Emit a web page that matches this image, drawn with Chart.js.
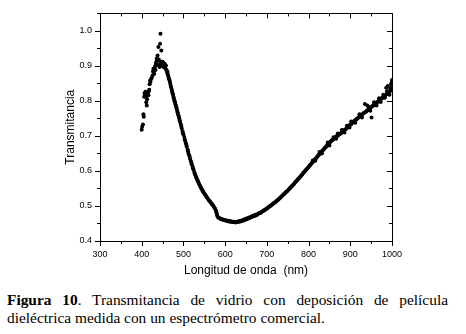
<!DOCTYPE html>
<html>
<head>
<meta charset="utf-8">
<script src="https://cdn.jsdelivr.net/npm/chart.js@4"></script>
<style>
    body { margin: 0; background: #fff; }
    #caja { position: relative; width: 466px; height: 334px; }
    #grafico { position: absolute; left: 0; top: 0; }
    .pie { position: absolute; left: 7px; width: 441px; font-family: "Liberation Serif", serif; font-size: 15.4px; color: #000; line-height: 18px; }
    #pie1 { top: 291px; text-align: justify; text-align-last: justify; }
    #pie2 { top: 309px; }
</style>
</head>
<body>
<div id="caja">
    <canvas id="grafico" width="466" height="285"></canvas>
    <div class="pie" id="pie1"><b>Figura 10</b>. Transmitancia de vidrio con deposición de película</div>
    <div class="pie" id="pie2">dieléctrica medida con un espectrómetro comercial.</div>
</div>
<script>
// longitud de onda (nm) y transmitancia
var LONGITUD = [
    400, 401, 403, 404, 405, 406, 407, 408, 409, 410, 411, 412, 413, 414, 415, 416, 417, 418, 419, 420,
    421, 422, 424, 426, 427, 428, 429, 430, 431, 432, 433, 434, 435, 436, 437, 438, 439, 440, 441, 442,
    443, 444, 445, 446, 447, 448, 449, 450, 451, 452, 453, 454, 455, 456, 457, 458, 459, 460, 461, 462,
    463, 464, 465, 466, 467, 468, 469, 470, 471, 472, 473, 474, 475, 476, 477, 478, 479, 480, 481, 482,
    483, 484, 485, 486, 487, 488, 489, 490, 491, 492, 494, 495, 496, 498, 499, 500, 502, 503, 504, 506,
    507, 508, 510, 511, 512, 514, 515, 516, 518, 519, 520, 522, 523, 524, 526, 527, 528, 530, 531, 532,
    534, 535, 536, 538, 540, 542, 543, 545, 547, 548, 550, 552, 554, 556, 558, 560, 562, 564, 566, 568,
    570, 572, 574, 576, 578, 579, 580, 581, 583, 585, 587, 589, 591, 593, 595, 597, 599, 601, 603, 605,
    607, 609, 611, 613, 615, 617, 619, 621, 623, 625, 627, 629, 631, 633, 635, 637, 639, 641, 643, 645,
    647, 649, 651, 653, 655, 657, 659, 661, 663, 665, 667, 669, 671, 673, 675, 677, 679, 681, 683, 685,
    687, 689, 691, 693, 695, 697, 699, 701, 703, 705, 707, 709, 711, 713, 715, 717, 719, 721, 723, 725,
    727, 729, 731, 733, 735, 737, 739, 741, 743, 745, 747, 749, 751, 753, 755, 757, 759, 761, 763, 765,
    767, 769, 771, 773, 775, 777, 779, 781, 783, 785, 787, 789, 791, 793, 795, 797, 799, 801, 803, 805,
    807, 809, 811, 813, 815, 817, 819, 821, 823, 825, 827, 829, 831, 833, 835, 837, 839, 841, 843, 845,
    847, 849, 851, 853, 855, 857, 859, 861, 863, 865, 867, 869, 871, 873, 875, 877, 879, 881, 883, 885,
    887, 889, 891, 893, 895, 897, 899, 901, 903, 905, 907, 909, 911, 913, 915, 917, 919, 921, 923, 925,
    927, 929, 931, 933, 935, 936, 938, 940, 941, 943, 945, 947, 949, 951, 952, 954, 956, 958, 960, 962,
    964, 966, 968, 970, 972, 974, 976, 978, 980, 982, 984, 986, 987, 989, 990, 991, 993, 995, 997, 998,
    999, 1000,
    810, 816, 826, 832, 846, 850, 860, 866, 870, 880, 886, 892, 898, 902, 912, 922, 928, 944, 948, 957,
    963, 969, 973, 979, 983, 988, 994, 996
];
var TRANSMITANCIA = [
    0.718, 0.726, 0.733, 0.762, 0.755, 0.812, 0.822, 0.818, 0.826, 0.812, 0.796, 0.787, 0.805, 0.818, 0.824, 0.816, 0.828, 0.832, 0.848, 0.858,
    0.854, 0.862, 0.866, 0.873, 0.884, 0.892, 0.886, 0.878, 0.894, 0.899, 0.888, 0.906, 0.912, 0.921, 0.915, 0.930, 0.902, 0.954, 0.918, 0.905,
    0.897, 0.963, 0.992, 0.912, 0.944, 0.908, 0.903, 0.912, 0.898, 0.909, 0.904, 0.896, 0.906, 0.898, 0.892, 0.901, 0.889, 0.886, 0.880, 0.883,
    0.874, 0.870, 0.864, 0.861, 0.858, 0.852, 0.846, 0.841, 0.837, 0.832, 0.826, 0.822, 0.818, 0.812, 0.808, 0.803, 0.799, 0.795, 0.790, 0.786,
    0.781, 0.778, 0.772, 0.768, 0.763, 0.759, 0.754, 0.750, 0.745, 0.740, 0.733, 0.727, 0.721, 0.713, 0.708, 0.704, 0.697, 0.690, 0.686, 0.679,
    0.674, 0.670, 0.661, 0.656, 0.650, 0.644, 0.640, 0.634, 0.628, 0.623, 0.619, 0.612, 0.608, 0.604, 0.597, 0.593, 0.590, 0.584, 0.581, 0.578,
    0.573, 0.570, 0.567, 0.562, 0.557, 0.553, 0.550, 0.546, 0.542, 0.539, 0.536, 0.532, 0.529, 0.525, 0.522, 0.518, 0.515, 0.512, 0.509, 0.506,
    0.503, 0.500, 0.496, 0.492, 0.487, 0.482, 0.477, 0.472, 0.468, 0.466, 0.465, 0.463, 0.462, 0.462, 0.461, 0.460, 0.459, 0.459, 0.458, 0.457,
    0.458, 0.456, 0.457, 0.455, 0.456, 0.454, 0.455, 0.454, 0.455, 0.453, 0.455, 0.454, 0.456, 0.455, 0.457, 0.456, 0.458, 0.459, 0.458, 0.461,
    0.462, 0.461, 0.464, 0.463, 0.466, 0.465, 0.468, 0.467, 0.470, 0.469, 0.472, 0.471, 0.474, 0.473, 0.476, 0.475, 0.478, 0.479, 0.481, 0.480,
    0.483, 0.484, 0.486, 0.487, 0.489, 0.490, 0.492, 0.494, 0.495, 0.498, 0.499, 0.501, 0.503, 0.504, 0.507, 0.508, 0.510, 0.512, 0.514, 0.516,
    0.518, 0.521, 0.522, 0.525, 0.527, 0.529, 0.532, 0.534, 0.536, 0.539, 0.541, 0.543, 0.546, 0.548, 0.551, 0.553, 0.556, 0.558, 0.561, 0.563,
    0.566, 0.569, 0.571, 0.574, 0.577, 0.579, 0.582, 0.585, 0.588, 0.590, 0.594, 0.596, 0.599, 0.602, 0.605, 0.607, 0.610, 0.613, 0.616, 0.618,
    0.622, 0.624, 0.627, 0.630, 0.633, 0.635, 0.638, 0.641, 0.644, 0.646, 0.650, 0.652, 0.655, 0.658, 0.660, 0.663, 0.666, 0.668, 0.671, 0.674,
    0.676, 0.679, 0.682, 0.684, 0.686, 0.689, 0.690, 0.693, 0.695, 0.697, 0.699, 0.700, 0.702, 0.704, 0.706, 0.707, 0.709, 0.712, 0.713, 0.716,
    0.718, 0.719, 0.722, 0.724, 0.726, 0.728, 0.731, 0.733, 0.735, 0.738, 0.740, 0.742, 0.744, 0.746, 0.748, 0.750, 0.752, 0.754, 0.756, 0.758,
    0.760, 0.762, 0.764, 0.766, 0.791, 0.768, 0.770, 0.773, 0.787, 0.775, 0.777, 0.779, 0.781, 0.753, 0.784, 0.786, 0.788, 0.790, 0.792, 0.794,
    0.796, 0.798, 0.800, 0.802, 0.804, 0.806, 0.808, 0.810, 0.812, 0.814, 0.816, 0.838, 0.819, 0.821, 0.843, 0.823, 0.825, 0.828, 0.832, 0.846,
    0.852, 0.860,
    0.630, 0.629, 0.654, 0.650, 0.681, 0.673, 0.696, 0.692, 0.707, 0.717, 0.710, 0.729, 0.724, 0.741, 0.738, 0.762, 0.753, 0.783, 0.772, 0.796,
    0.787, 0.808, 0.797, 0.818, 0.809, 0.828, 0.818, 0.836
];
var TICKS_X = [300, 400, 500, 600, 700, 800, 900, 1000];
var TICKS_Y = [0.4, 0.5, 0.6, 0.7, 0.8, 0.9, 1.0];

var puntos = [];
for (var i in LONGITUD) {
    puntos.push({x: LONGITUD[i], y: TRANSMITANCIA[i]});
}

// marco y marcas de los ejes (mayores y menores)
var marcasEjes = {
    id: 'marcasEjes',
    afterDraw: function (chart) {
        var ctx = chart.ctx;
        var a = chart.chartArea;
        var sx = chart.scales.x;
        var sy = chart.scales.y;
        ctx.save();
        ctx.strokeStyle = '#000';
        ctx.lineWidth = 1;
        ctx.beginPath();
        ctx.rect(Math.round(a.left) + 0.5, Math.round(a.top) + 0.5, Math.round(a.right - a.left), Math.round(a.bottom - a.top));
        for (var v = 300; v <= 1000; v += 50) {
            var px = Math.round(sx.getPixelForValue(v)) + 0.5;
            var l = (v % 100 === 0) ? 5 : 3;
            ctx.moveTo(px, a.bottom);
            ctx.lineTo(px, a.bottom + l);
            ctx.moveTo(px, a.top);
            ctx.lineTo(px, a.top + l);
        }
        for (var k = 0; k <= 13; k++) {
            var val = 0.4 + k * 0.05;
            var py = Math.round(sy.getPixelForValue(val)) + 0.5;
            var l2 = (k % 2 === 0) ? 5 : 3;
            ctx.moveTo(a.left, py);
            ctx.lineTo(a.left - l2, py);
            ctx.moveTo(a.right, py);
            ctx.lineTo(a.right - l2, py);
        }
        ctx.stroke();
        ctx.restore();
    }
};

var GRAFICO = new Chart(document.getElementById("grafico"), {
    type: 'scatter',
    data: {
        datasets: [{
            data: puntos,
            backgroundColor: '#000',
            borderWidth: 0,
            pointRadius: 2
        }]
    },
    options: {
        responsive: false,
        animation: false,
        events: [],
        layout: {
            padding: {left: 0, right: 74, top: 12, bottom: 0}
        },
        plugins: {
            legend: {display: false},
            tooltip: {enabled: false}
        },
        scales: {
            x: {
                type: 'linear',
                min: 300,
                max: 1000,
                afterFit: function (scale) {
                    scale.height = 44;
                },
                afterBuildTicks: function (scale) {
                    scale.ticks = TICKS_X.map(function (v) { return {value: v}; });
                },
                grid: {display: false, drawTicks: false},
                border: {display: false},
                ticks: {
                    color: '#000',
                    padding: 8,
                    maxRotation: 0,
                    font: {family: 'Liberation Sans', size: 9},
                    callback: function (v) { return String(v); }
                },
                title: {
                    display: true,
                    text: 'Longitud de onda  (nm)',
                    color: '#000',
                    padding: {top: 0, bottom: 7},
                    font: {family: 'Liberation Sans', size: 12}
                }
            },
            y: {
                type: 'linear',
                min: 0.4,
                max: 1.05,
                afterFit: function (scale) {
                    scale.width = 100;
                },
                afterBuildTicks: function (scale) {
                    scale.ticks = TICKS_Y.map(function (v) { return {value: v}; });
                },
                grid: {display: false, drawTicks: false},
                border: {display: false},
                ticks: {
                    color: '#000',
                    padding: 8,
                    font: {family: 'Liberation Sans', size: 9},
                    callback: function (v) { return v.toFixed(1); }
                },
                title: {
                    display: true,
                    text: 'Transmitancia',
                    color: '#000',
                    padding: {top: 63, bottom: 0},
                    font: {family: 'Liberation Sans', size: 12}
                }
            }
        }
    },
    plugins: [marcasEjes]
});
</script>
</body>
</html>
